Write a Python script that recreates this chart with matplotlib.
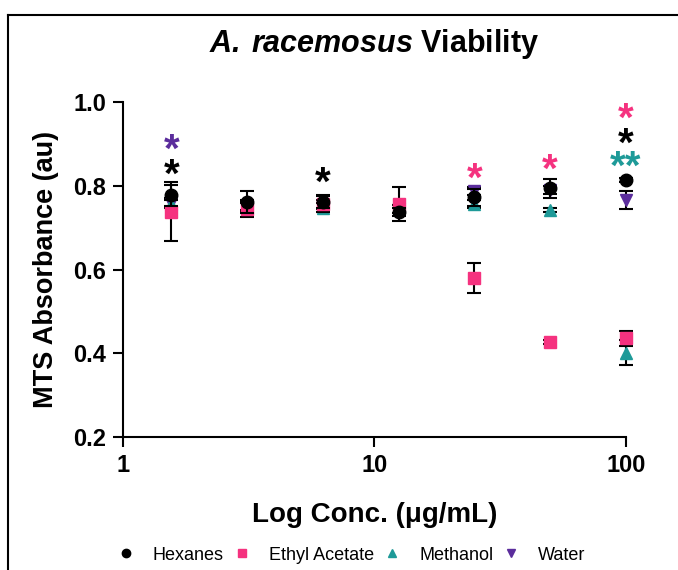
import matplotlib
matplotlib.use("Agg")
import matplotlib.pyplot as plt
from matplotlib.lines import Line2D

plt.rcParams['font.family'] = ['Liberation Sans', 'DejaVu Sans']
plt.rcParams['mathtext.fontset'] = 'custom'
plt.rcParams['mathtext.bfit'] = 'Liberation Sans:bold:italic'
plt.rcParams['mathtext.rm'] = 'Liberation Sans'

# concentrations (ug/mL), two-fold dilutions
conc = [1.5625, 3.125, 6.25, 12.5, 25, 50, 100]

hexanes = [0.778, 0.762, 0.761, 0.738, 0.773, 0.794, 0.814]
hexanes_err = [0.025, 0.026, 0.015, 0.010, 0.020, 0.022, 0.004]
ethyl = [0.738, 0.745, 0.757, 0.757, 0.580, 0.427, 0.436]
ethyl_err = [0.070, 0.020, 0.020, 0.040, 0.035, 0.005, 0.018]
methanol = [0.757, 0.750, 0.748, 0.745, 0.757, 0.742, 0.402]
methanol_err = [0.010, 0.010, 0.010, 0.010, 0.010, 0.005, 0.030]
water = [0.760, 0.752, 0.755, 0.745, 0.788, 0.790, 0.766]
water_err = [0.010, 0.010, 0.010, 0.010, 0.010, 0.010, 0.021]

names = ["Hexanes", "Ethyl Acetate", "Methanol", "Water"]
colors = ["#000000", "#F5327F", "#1E9A98", "#5B2D9C"]
markers = ["o", "s", "^", "v"]

# significance asterisks: x, y, colour index, text
star_x = [1.5625, 1.5625, 6.25, 25, 50, 100, 100, 100]
star_y = [0.902, 0.842, 0.824, 0.833, 0.854, 0.976, 0.916, 0.861]
star_c = [3, 0, 0, 1, 1, 1, 0, 2]
star_t = ["*", "*", "*", "*", "*", "*", "*", "**"]

fig = plt.figure(figsize=(6.78, 5.70), dpi=100)
ax = fig.add_axes([0.181, 0.233, 0.742, 0.588])

series = [hexanes, ethyl, methanol, water]
errs = [hexanes_err, ethyl_err, methanol_err, water_err]
# draw water first so hexanes end up on top
for i in [3, 2, 1, 0]:
    ax.errorbar(conc, series[i], yerr=errs[i], fmt=markers[i], color=colors[i],
                ecolor="black", elinewidth=1.5, capsize=5, capthick=1.5,
                markersize=9, clip_on=False, zorder=3 + (3 - i))

for x, y, c, t in zip(star_x, star_y, star_c, star_t):
    ax.annotate(t, (x, y), xytext=(0, -5.5), textcoords="offset points",
                color=colors[c], fontsize=29, fontweight="bold",
                ha="center", va="center", zorder=10)

ax.set_xscale("log")
ax.set_xlim(1, 100)
ax.set_ylim(0.2, 1.0)
ax.set_xticks([1, 10, 100])
ax.set_xticklabels(["1", "10", "100"])
ax.set_yticks([0.2, 0.4, 0.6, 0.8, 1.0])
ax.set_yticklabels(["0.2", "0.4", "0.6", "0.8", "1.0"])
ax.minorticks_off()
ax.tick_params(width=1.5, length=7, labelsize=17, pad=5)
for lab in ax.get_xticklabels() + ax.get_yticklabels():
    lab.set_fontweight("bold")
ax.spines["top"].set_visible(False)
ax.spines["right"].set_visible(False)
ax.spines["left"].set_linewidth(1.5)
ax.spines["bottom"].set_linewidth(1.5)

ax.set_title(r"$\mathbfit{A.\,racemosus}$ Viability", fontsize=22,
             fontweight="bold", pad=36)
ax.set_xlabel("Log Conc. (μg/mL)", fontsize=20, fontweight="bold", labelpad=18)
ax.set_ylabel("MTS Absorbance (au)", fontsize=19.5, fontweight="bold", labelpad=10)

handles = [Line2D([], [], marker=m, color=c, linestyle="none", markersize=6)
           for m, c in zip(markers, colors)]
fig.legend(handles, names, loc="center", bbox_to_anchor=(0.518, 0.026), ncol=4,
           frameon=False, fontsize=13, handlelength=1.0, handletextpad=1.0,
           columnspacing=0.5)

# outer frame (left and top edges visible in the reference)
fig.add_artist(Line2D([8 / 678, 8 / 678], [0, 1 - 15 / 570], color="black",
                      lw=1.5, transform=fig.transFigure))
fig.add_artist(Line2D([8 / 678, 1], [1 - 15 / 570, 1 - 15 / 570], color="black",
                      lw=1.5, transform=fig.transFigure))

fig.savefig("out.png", dpi=100)
